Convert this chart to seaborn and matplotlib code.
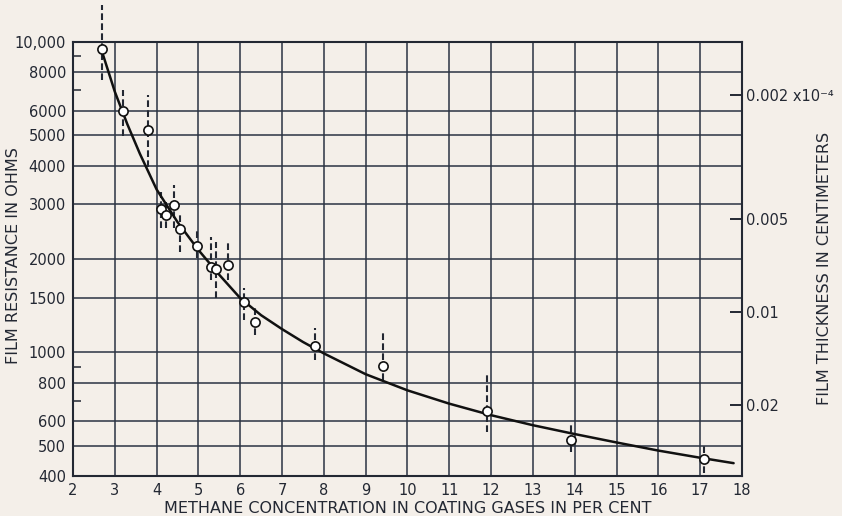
import numpy as np
import pandas as pd
import matplotlib
matplotlib.use("Agg")
import matplotlib.pyplot as plt
import seaborn as sns

# ---- data ----
methane_pts = [2.69, 3.20, 3.80, 4.10, 4.22, 4.41, 4.57, 4.97, 5.29, 5.42, 5.70,
               6.08, 6.35, 7.79, 9.41, 11.90, 13.91, 17.10]
resist_pts = [9490, 5995, 5210, 2898, 2762, 2978, 2495, 2203, 1889, 1854, 1906,
              1459, 1250, 1049, 906, 650, 522, 453]
resist_hi = [13150, 7000, 6750, 3290, 3062, 3459, 2842, 2517, 2361, 2275, 2302,
             1614, 1422, 1200, 1156, 859, 597, 504]
resist_lo = [7550, 4980, 3955, 2517, 2517, 2517, 2111, 2015, 1712, 1495, 1712,
             1273, 1139, 946, 815, 555, 479, 409]

curve_x = [2.72, 3.0, 3.3, 3.6, 4.0, 4.5, 5.0, 5.5, 6.0, 6.5, 7.0, 7.5, 8.0,
           9.0, 10.0, 11.0, 12.0, 13.0, 14.0, 15.0, 16.0, 17.0, 17.8]
curve_r = [9078, 6918, 5433, 4365, 3350, 2630, 2138, 1778, 1496, 1318, 1189,
           1081, 993, 851, 755, 684, 628, 583, 546, 513, 483, 458, 440]

x_ticks = list(range(2, 19))
y_ticks = [400, 500, 600, 800, 1000, 1500, 2000, 3000, 4000, 5000, 6000, 8000, 10000]
y_tick_labels = ["400", "500", "600", "800", "1000", "1500", "2000", "3000",
                 "4000", "5000", "6000", "8000", "10,000"]
y_minor = [700, 900, 7000, 9000]
thickness_ticks = [0.002, 0.005, 0.01, 0.02]
thickness_labels = ["0.002 x10\u207b\u2074", "0.005", "0.01", "0.02"]
thickness_const = 13.5  # resistance x thickness (ohm * 1e-4 cm)

# ---- style ----
sns.set_style("white")
paper = "#f4efe9"
ink = "#232833"
grid_c = "#2b3342"
plt.rcParams["font.family"] = ["DejaVu Sans"]
plt.rcParams["text.color"] = ink

fig = plt.figure(figsize=(8.42, 5.16), dpi=100, facecolor=paper)
ax = fig.add_axes([0.0867, 0.0775, 0.7945, 0.8411])
ax.set_facecolor(paper)
ax.set_yscale("log")
ax.set_xlim(2, 18)
ax.set_ylim(400, 10000)

ax.set_xticks(x_ticks)
ax.set_xticklabels([str(v) for v in x_ticks], fontsize=10.5, color=ink)
ax.set_yticks(y_ticks)
ax.set_yticklabels(y_tick_labels, fontsize=10.5, color=ink)
ax.set_yticks(y_minor, minor=True)
ax.set_yticklabels([], minor=True)
ax.tick_params(axis="both", which="major", length=0, pad=5)
ax.tick_params(axis="y", which="minor", direction="in", length=6, width=1.1, color=ink, left=True)
ax.grid(True, which="major", color=grid_c, linewidth=1.1)
ax.grid(False, which="minor")
for s in ax.spines.values():
    s.set_color(ink)
    s.set_linewidth(1.5)
    s.set_visible(True)

# error bars (dashed)
ax.vlines(methane_pts, resist_lo, resist_hi, colors=ink, linestyles=(0, (3.2, 1.6)),
          linewidth=1.5, zorder=3, clip_on=False)

# fitted curve
curve_df = pd.DataFrame({"x": curve_x, "r": curve_r})
sns.lineplot(data=curve_df, x="x", y="r", ax=ax, color="#111111", linewidth=1.8,
             sort=True, zorder=4, estimator=None)

# points
pts_df = pd.DataFrame({"x": methane_pts, "r": resist_pts})
sns.scatterplot(data=pts_df, x="x", y="r", ax=ax, s=44, marker="o",
                facecolor="white", edgecolor="#111111", linewidth=1.2, zorder=5,
                clip_on=False)

ax.set_xlabel("METHANE CONCENTRATION IN COATING GASES IN PER CENT", fontsize=11.5,
              color=ink, labelpad=2)
ax.set_ylabel("FILM RESISTANCE IN OHMS", fontsize=11.5, color=ink)
ax.yaxis.set_label_coords(-0.078, 0.509)

# right axis: film thickness
ax2 = ax.twinx()
ax2.set_yscale("log")
ax2.set_ylim(ax.get_ylim())
ax2.set_yticks([thickness_const / t for t in thickness_ticks])
ax2.set_yticklabels(thickness_labels, fontsize=10.5, color=ink)
ax2.yaxis.set_minor_locator(matplotlib.ticker.NullLocator())
ax2.tick_params(axis="y", which="major", direction="in", length=9, width=1.4,
                color=ink, pad=3)
for s in ax2.spines.values():
    s.set_visible(False)
ax2.set_ylabel("FILM THICKNESS IN CENTIMETERS", fontsize=11.5, color=ink, rotation=90)
ax2.yaxis.set_label_coords(1.112, 0.479)

fig.savefig("out.png", dpi=100, facecolor=paper)
